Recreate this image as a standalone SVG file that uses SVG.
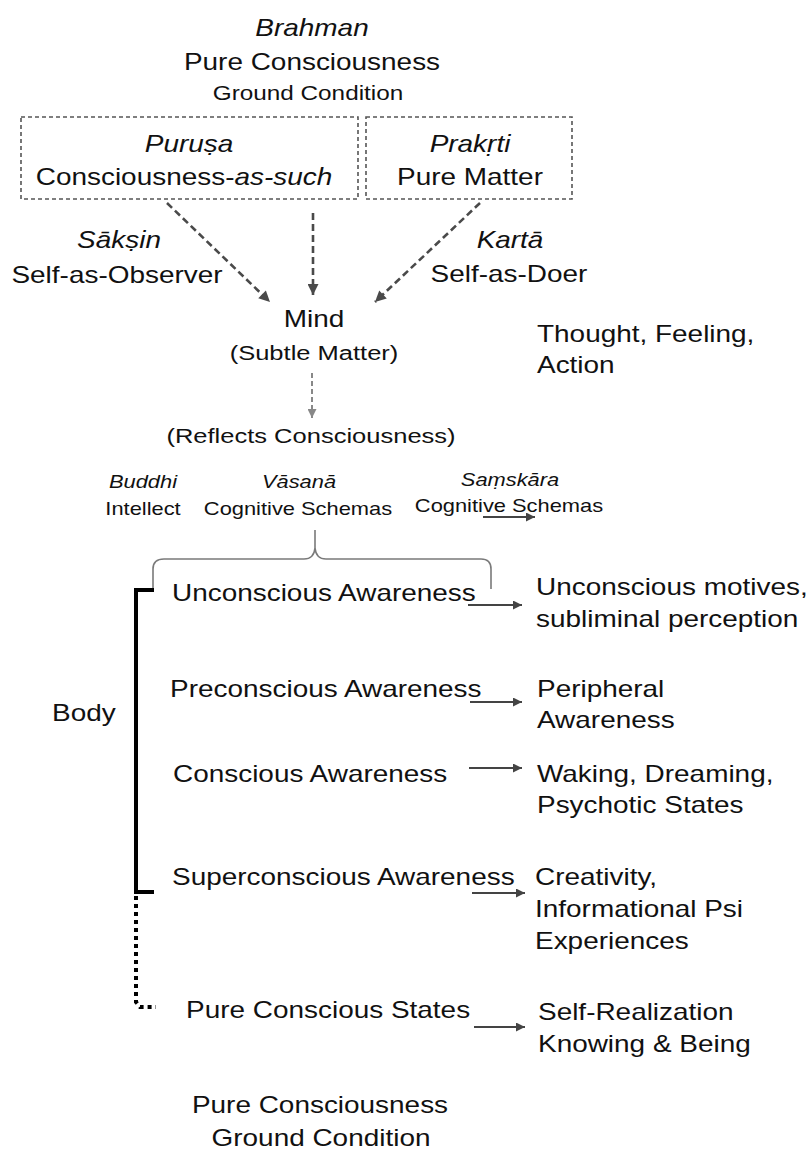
<svg xmlns="http://www.w3.org/2000/svg" width="807" height="1152" viewBox="0 0 807 1152">
<style>
text{font-family:"Liberation Sans",Arial,"DejaVu Sans",sans-serif;fill:#111;}
.f22{font-size:23px;}
.f20{font-size:21px;}
.f19{font-size:20px;}
.f17{font-size:18px;}
.it{font-style:italic;}
.mid{text-anchor:middle;}
.dbox{fill:none;stroke:#555;stroke-width:1.6;stroke-dasharray:4 3;}
.dash{fill:none;stroke:#4a4a4a;stroke-width:2.6;stroke-dasharray:7 4;}
.gdash{fill:none;stroke:#888;stroke-width:2;stroke-dasharray:5 3;}
.solid{fill:none;stroke:#444;stroke-width:2;}
.brace{fill:none;stroke:#7a7a7a;stroke-width:1.6;}
.body{fill:none;stroke:#000;stroke-width:4;}
.bodydot{fill:none;stroke:#000;stroke-width:4;stroke-dasharray:4 4;}
</style>
<defs>
<marker id="ahd" viewBox="0 0 10 10" refX="10" refY="5" markerWidth="13" markerHeight="11" markerUnits="userSpaceOnUse" orient="auto"><path d="M0,0 L10,5 L0,10 z" fill="#4a4a4a"/></marker>
<marker id="ahg" viewBox="0 0 10 10" refX="10" refY="5" markerWidth="10" markerHeight="9" markerUnits="userSpaceOnUse" orient="auto"><path d="M0,0 L10,5 L0,10 z" fill="#888"/></marker>
<marker id="ahs" viewBox="0 0 10 10" refX="10" refY="5" markerWidth="11" markerHeight="9" markerUnits="userSpaceOnUse" orient="auto"><path d="M0,0 L10,5 L0,10 z" fill="#444"/></marker>
</defs>

<g id="brahman">
<text class="f22 it mid" transform="translate(312 36) scale(1.215 1)">Brahman</text>
<text class="f22 mid" transform="translate(312 70) scale(1.215 1)">Pure Consciousness</text>
<text class="f19 mid" transform="translate(308 100) scale(1.215 1)">Ground Condition</text>
</g>

<g id="purusa">
<rect class="dbox" x="21" y="117" width="337" height="82"/>
<text class="f22 it mid" transform="translate(189 152) scale(1.215 1)">Puruṣa</text>
<text class="f22 mid" transform="translate(184 185) scale(1.215 1)">Consciousness-<tspan class="it">as-such</tspan></text>
</g>

<g id="prakrti">
<rect class="dbox" x="366" y="117" width="206" height="82"/>
<text class="f22 it mid" transform="translate(470 152) scale(1.215 1)">Prakṛti</text>
<text class="f22 mid" transform="translate(470 185) scale(1.215 1)">Pure Matter</text>
</g>

<g id="saksin">
<text class="f22 it mid" transform="translate(119 248) scale(1.215 1)">Sākṣin</text>
<text class="f22 mid" transform="translate(117 283) scale(1.215 1)">Self-as-Observer</text>
</g>

<g id="karta">
<text class="f22 it mid" transform="translate(510 248) scale(1.215 1)">Kartā</text>
<text class="f22 mid" transform="translate(509 282) scale(1.215 1)">Self-as-Doer</text>
</g>

<g id="mind">
<text class="f22 mid" transform="translate(314 327) scale(1.215 1)">Mind</text>
<text class="f20 mid" transform="translate(314 360) scale(1.215 1)">(Subtle Matter)</text>
</g>

<g id="thought">
<text class="f22" transform="translate(537 342) scale(1.215 1)">Thought, Feeling,</text>
<text class="f22" transform="translate(537 373) scale(1.215 1)">Action</text>
</g>

<g id="reflects">
<text class="f20 mid" transform="translate(311 443) scale(1.215 1)">(Reflects Consciousness)</text>
</g>

<g id="buddhi">
<text class="f17 it mid" transform="translate(143 488) scale(1.215 1)">Buddhi</text>
<text class="f17 mid" transform="translate(143 515) scale(1.215 1)">Intellect</text>
</g>

<g id="vasana">
<text class="f17 it mid" transform="translate(299 488) scale(1.215 1)">Vāsanā</text>
<text class="f17 mid" transform="translate(298 515) scale(1.215 1)">Cognitive Schemas</text>
</g>

<g id="samskara">
<text class="f17 it mid" transform="translate(510 486) scale(1.215 1)">Saṃskāra</text>
<text class="f17 mid" transform="translate(509 512) scale(1.215 1)">Cognitive Schemas</text>
</g>

<g id="body">
<text class="f22" transform="translate(52 721) scale(1.215 1)">Body</text>
</g>

<g id="unconscious">
<text class="f22" transform="translate(172 601) scale(1.215 1)">Unconscious Awareness</text>
</g>
<g id="unconscious-out">
<text class="f22" transform="translate(536 595) scale(1.215 1)">Unconscious motives,</text>
<text class="f22" transform="translate(536 627) scale(1.215 1)">subliminal perception</text>
</g>

<g id="preconscious">
<text class="f22" transform="translate(170 697) scale(1.215 1)">Preconscious Awareness</text>
</g>
<g id="preconscious-out">
<text class="f22" transform="translate(537 697) scale(1.215 1)">Peripheral</text>
<text class="f22" transform="translate(537 728) scale(1.215 1)">Awareness</text>
</g>

<g id="conscious">
<text class="f22" transform="translate(173 782) scale(1.215 1)">Conscious Awareness</text>
</g>
<g id="conscious-out">
<text class="f22" transform="translate(537 782) scale(1.215 1)">Waking, Dreaming,</text>
<text class="f22" transform="translate(537 813) scale(1.215 1)">Psychotic States</text>
</g>

<g id="superconscious">
<text class="f22" transform="translate(172 885) scale(1.215 1)">Superconscious Awareness</text>
</g>
<g id="superconscious-out">
<text class="f22" transform="translate(535 885) scale(1.215 1)">Creativity,</text>
<text class="f22" transform="translate(535 917) scale(1.215 1)">Informational Psi</text>
<text class="f22" transform="translate(535 949) scale(1.215 1)">Experiences</text>
</g>

<g id="pure-states">
<text class="f22" transform="translate(186 1018) scale(1.215 1)">Pure Conscious States</text>
</g>
<g id="pure-states-out">
<text class="f22" transform="translate(538 1020) scale(1.215 1)">Self-Realization</text>
<text class="f22" transform="translate(538 1052) scale(1.215 1)">Knowing &amp; Being</text>
</g>

<g id="ground">
<text class="f22 mid" transform="translate(320 1113) scale(1.215 1)">Pure Consciousness</text>
<text class="f22 mid" transform="translate(321 1146) scale(1.215 1)">Ground Condition</text>
</g>

<g id="connectors">
<line class="dash" x1="167" y1="203" x2="270" y2="302" marker-end="url(#ahd)"/>
<line class="dash" x1="313" y1="213" x2="313" y2="295" marker-end="url(#ahd)"/>
<line class="dash" x1="480" y1="203" x2="375" y2="302" marker-end="url(#ahd)"/>
<line class="gdash" x1="312" y1="373" x2="312" y2="418" marker-end="url(#ahg)"/>
<line class="solid" x1="483" y1="517" x2="535" y2="517" marker-end="url(#ahs)"/>
<path class="brace" d="M153 590 L153 569 Q153 559 164 559 L304 559 Q314 559 315 548 L315 530 M315 548 Q316 559 326 559 L481 559 Q491 559 491 569 L491 589"/>
<path class="body" d="M154 590 H136 V892 H154"/>
<path class="bodydot" d="M136 896 V1002 L140 1007 H156"/>
<line class="solid" x1="468" y1="605" x2="522" y2="605" marker-end="url(#ahs)"/>
<line class="solid" x1="470" y1="702" x2="522" y2="702" marker-end="url(#ahs)"/>
<line class="solid" x1="469" y1="768" x2="522" y2="768" marker-end="url(#ahs)"/>
<line class="solid" x1="472" y1="893" x2="525" y2="893" marker-end="url(#ahs)"/>
<line class="solid" x1="474" y1="1027" x2="525" y2="1027" marker-end="url(#ahs)"/>
</g>
</svg>
